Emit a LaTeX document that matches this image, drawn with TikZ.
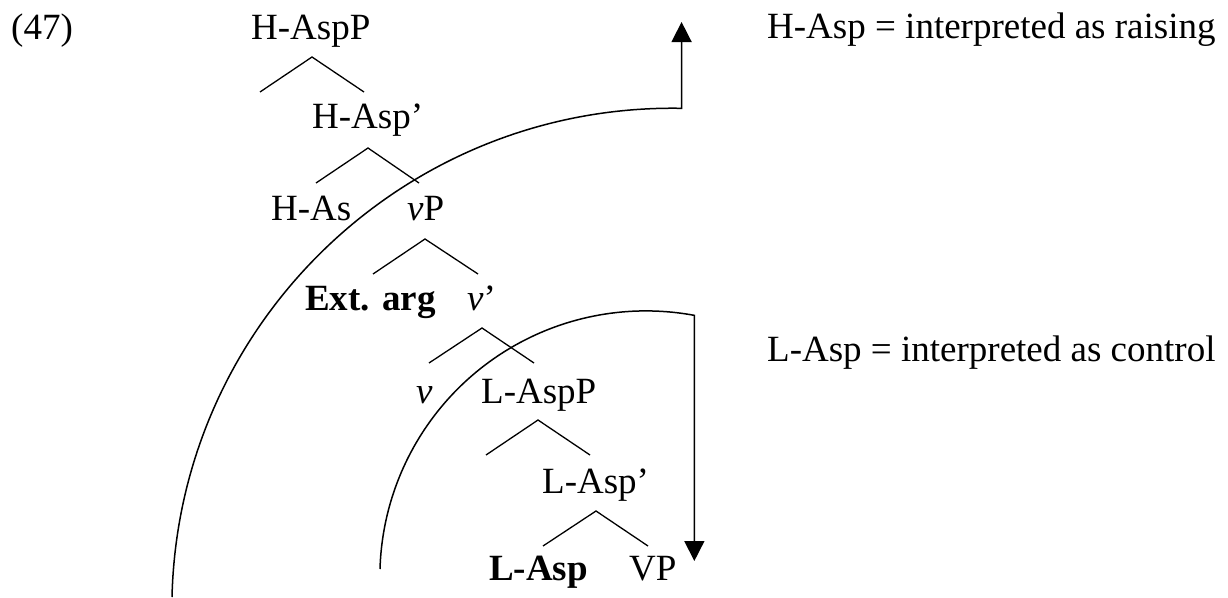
\documentclass[tikz,border=0pt]{standalone}
\usepackage{fontspec}
\setmainfont{Liberation Serif}
\usetikzlibrary{arrows.meta}
\begin{document}
\begin{tikzpicture}[x=1pt,y=-1pt,
  lbl/.style={anchor=base west,inner sep=0pt,font=\fontsize{37}{44}\selectfont},
  branch/.style={line width=1.3pt},
  bigarc/.style={line width=1.5pt},
  tip/.style={-{Triangle[length=20pt,width=20pt]}}]
\useasboundingbox (0,0) rectangle (1228,597);
% labels
\node[lbl] (ex) at (11,39) {(47)};
\node[lbl] (hap) at (251,39) {H-AspP};
\node[lbl] (hab) at (312,128) {H-Asp’};
\node[lbl] (has) at (271,220) {H-As};
\node[lbl] (vp) at (407,220) {\textit{v}P};
\node[lbl] (ext) at (305,310) {\textbf{Ext. arg}};
\node[lbl] (vb) at (467,310) {\textit{v}’};
\node[lbl] (v) at (416,403) {\textit{v}};
\node[lbl] (lap) at (481,403) {L-AspP};
\node[lbl] (lab) at (542,493) {L-Asp’};
\node[lbl] (la) at (489,580) {\textbf{L-Asp}};
\node[lbl] (VP) at (629,580) {VP};
\node[lbl] (t1) at (767,38) {H-Asp = interpreted as raising};
\node[lbl] (t2) at (767,361) {L-Asp = interpreted as control};
% branches
\coordinate (a1) at (312,57);  \coordinate (l1) at (260,92);  \coordinate (r1) at (364,92);
\coordinate (a2) at (368,148); \coordinate (l2) at (316,183); \coordinate (r2) at (419,183);
\coordinate (a3) at (425,239); \coordinate (l3) at (373,274); \coordinate (r3) at (478,274);
\coordinate (a4) at (482,328); \coordinate (l4) at (429,363); \coordinate (r4) at (534,363);
\coordinate (a5) at (538,420); \coordinate (l5) at (486,455); \coordinate (r5) at (590,455);
\coordinate (a6) at (596,511); \coordinate (l6) at (543,546); \coordinate (r6) at (648,546);
\foreach \i in {1,...,6} {\draw[branch] (l\i) -- (a\i) -- (r\i);}
% outer arc with upward arrow
\coordinate (ostart) at (172,597);
\coordinate (otip) at (682,22);
\draw[bigarc,tip] (ostart) arc[start angle=181.4,end angle=271,radius=501] coordinate (oend) -- (oend |- otip);
% inner arc with downward arrow
\coordinate (istart) at (380,569);
\coordinate (itip) at (694,561);
\draw[bigarc,tip] (istart) arc[start angle=181.7,end angle=280.5,radius=266] coordinate (iend) -- (iend |- itip);
\end{tikzpicture}
\end{document}
